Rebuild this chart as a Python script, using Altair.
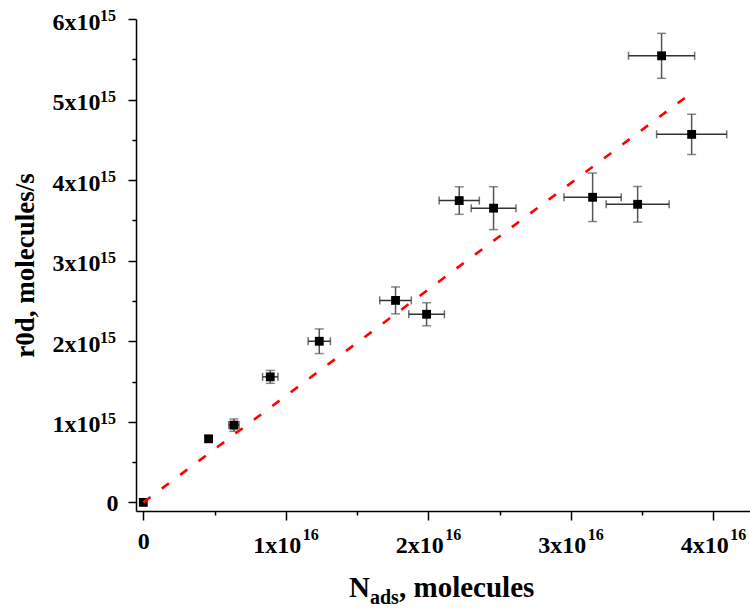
import altair as alt
import pandas as pd

# ---- data ----
n_ads = [0.0, 4.58e15, 6.36e15, 8.91e15, 1.235e16, 1.77e16, 1.988e16,
         2.217e16, 2.458e16, 3.153e16, 3.469e16, 3.637e16, 3.848e16]
r0d = [0.0, 7.89e14, 9.59e14, 1.558e15, 2.0e15, 2.507e15, 2.335e15,
       3.746e15, 3.652e15, 3.787e15, 3.70e15, 5.543e15, 4.568e15]
n_err = [0.0, 0.0, 3.6e14, 5.4e14, 7.8e14, 1.11e15, 1.25e15,
         1.41e15, 1.57e15, 2.01e15, 2.21e15, 2.32e15, 2.46e15]
r_err = [0.0, 0.0, 7.6e13, 8.0e13, 1.53e14, 1.67e14, 1.43e14,
         1.71e14, 2.66e14, 3.01e14, 2.21e14, 2.79e14, 2.5e14]
fit_x = [0.0, 3.80e16]
fit_y = [0.0, 5.02e15]

x_ticks = [0, 5e15, 1e16, 1.5e16, 2e16, 2.5e16, 3e16, 3.5e16, 4e16]
y_ticks = [0, 5e14, 1e15, 1.5e15, 2e15, 2.5e15, 3e15, 3.5e15, 4e15,
           4.5e15, 5e15, 5.5e15, 6e15]
x_major = [1e16, 2e16, 3e16, 4e16]
y_major = [1e15, 2e15, 3e15, 4e15, 5e15, 6e15]
x_exponent = "16"
y_exponent = "15"
x_title_parts = ["N", "ads", ", molecules"]
y_title = "r0d, molecules/s"

FONT = "Liberation Serif"

df = pd.DataFrame({"x": n_ads, "y": r0d, "xe": n_err, "ye": r_err})
df["xlo"] = df["x"] - df["xe"]
df["xhi"] = df["x"] + df["xe"]
df["ylo"] = df["y"] - df["ye"]
df["yhi"] = df["y"] + df["ye"]
fit = pd.DataFrame({"x": fit_x, "y": fit_y})

xscale = alt.Scale(domain=[-5.12e14, 4.2575e16], nice=False, zero=False)
yscale = alt.Scale(domain=[-1.07e14, 6.0e15], nice=False, zero=False)

common_axis = dict(
    grid=False, domainColor="black", domainWidth=1.5, tickColor="black",
    tickWidth=1.5, labelFont=FONT, labelFontSize=24, labelFontWeight="bold",
    labelColor="black", labelFlush=False, labelOverlap=False,
    labelBaseline="alphabetic",
)

xaxis = alt.Axis(
    values=x_ticks, title=None,
    labelPadding={"condition": {"test": "datum.value == 0", "value": 28}, "value": 32},
    labelOffset={"condition": {"test": "datum.value == 0", "value": 0}, "value": -9},
    tickSize={"condition": {"test": "round(datum.value/5e15) % 2 == 0", "value": 9}, "value": 4},
    labelExpr="round(datum.value/5e15) % 2 != 0 ? '' : (datum.value == 0 ? '0' : round(datum.value/1e16) + 'x10')",
    **common_axis,
)
yaxis = alt.Axis(
    values=y_ticks, title=y_title,
    labelPadding={"condition": {"test": "datum.value == 0", "value": 10}, "value": 28},
    labelOffset={"condition": {"test": "datum.value == 0", "value": 8}, "value": 10},
    tickSize={"condition": {"test": "round(datum.value/5e14) % 2 == 0", "value": 8}, "value": 4},
    labelExpr="round(datum.value/5e14) % 2 != 0 ? '' : (datum.value == 0 ? '0' : round(datum.value/1e15) + 'x10')",
    titleFont=FONT, titleFontSize=27, titleFontWeight="bold", titleColor="black",
    titleX=-103, titleY=246, titleAngle=270, titleAlign="center",
    titleBaseline="alphabetic",
    **common_axis,
)

base = alt.Chart(df)
ERR_COLOR = "#555555"
ERR_COLOR_H = "#333333"

vbar = base.transform_filter("datum.ye > 0").mark_rule(
    color=ERR_COLOR, strokeWidth=1.5
).encode(
    x=alt.X("x:Q", scale=xscale, axis=xaxis),
    y=alt.Y("ylo:Q", scale=yscale, axis=yaxis),
    y2="yhi:Q",
)
hbar = base.transform_filter("datum.xe > 0").mark_rule(
    color=ERR_COLOR_H, strokeWidth=1.5
).encode(x="xlo:Q", x2="xhi:Q", y="y:Q")

vcap_lo = base.transform_filter("datum.ye > 0").mark_tick(
    orient="horizontal", size=9, thickness=1.5, color=ERR_COLOR
).encode(x="x:Q", y="ylo:Q")
vcap_hi = base.transform_filter("datum.ye > 0").mark_tick(
    orient="horizontal", size=9, thickness=1.5, color=ERR_COLOR
).encode(x="x:Q", y="yhi:Q")
hcap_lo = base.transform_filter("datum.xe > 0").mark_tick(
    orient="vertical", size=8, thickness=1.5, color=ERR_COLOR_H
).encode(x="xlo:Q", y="y:Q")
hcap_hi = base.transform_filter("datum.xe > 0").mark_tick(
    orient="vertical", size=8, thickness=1.5, color=ERR_COLOR_H
).encode(x="xhi:Q", y="y:Q")

points = base.mark_point(
    shape="square", filled=True, size=78, color="black", opacity=1
).encode(x="x:Q", y="y:Q")

line = alt.Chart(fit).mark_line(
    color="#ff0000", strokeWidth=2.6, strokeDash=[9, 14]
).encode(x="x:Q", y="y:Q")

# exponents of the tick labels (superscripts), placed via the scales
x_exp = alt.Chart(pd.DataFrame({"v": x_major})).mark_text(
    text=x_exponent, font=FONT, fontSize=16, fontWeight="bold",
    align="left", baseline="alphabetic", color="black", dx=17
).encode(x="v:Q", y=alt.value(521))
y_exp = alt.Chart(pd.DataFrame({"v": y_major})).mark_text(
    text=y_exponent, font=FONT, fontSize=16, fontWeight="bold",
    align="left", baseline="alphabetic", color="black", dy=2
).encode(x=alt.value(-36), y="v:Q")

title_df = pd.DataFrame({"a": [0]})
t_n = alt.Chart(title_df).mark_text(
    text=x_title_parts[0], font=FONT, fontSize=29, fontWeight="bold",
    align="left", baseline="alphabetic", color="black"
).encode(x=alt.value(213), y=alt.value(578))
t_ads = alt.Chart(title_df).mark_text(
    text=x_title_parts[1], font=FONT, fontSize=20, fontWeight="bold",
    align="left", baseline="alphabetic", color="black"
).encode(x=alt.value(234), y=alt.value(585))
t_rest = alt.Chart(title_df).mark_text(
    text=x_title_parts[2], font=FONT, fontSize=29, fontWeight="bold",
    align="left", baseline="alphabetic", color="black"
).encode(x=alt.value(263), y=alt.value(578))

chart = alt.layer(
    vbar, hbar, vcap_lo, vcap_hi, hcap_lo, hcap_hi, points, line,
    x_exp, y_exp, t_n, t_ads, t_rest,
).properties(
    width=614, height=492,
    autosize=alt.AutoSizeParams(type="none"),
    padding={"left": 136, "top": 19, "right": 0, "bottom": 99},
    background="white",
).configure_view(stroke=None)

chart.save("out.html", embed_options={"renderer": "svg", "actions": False})
